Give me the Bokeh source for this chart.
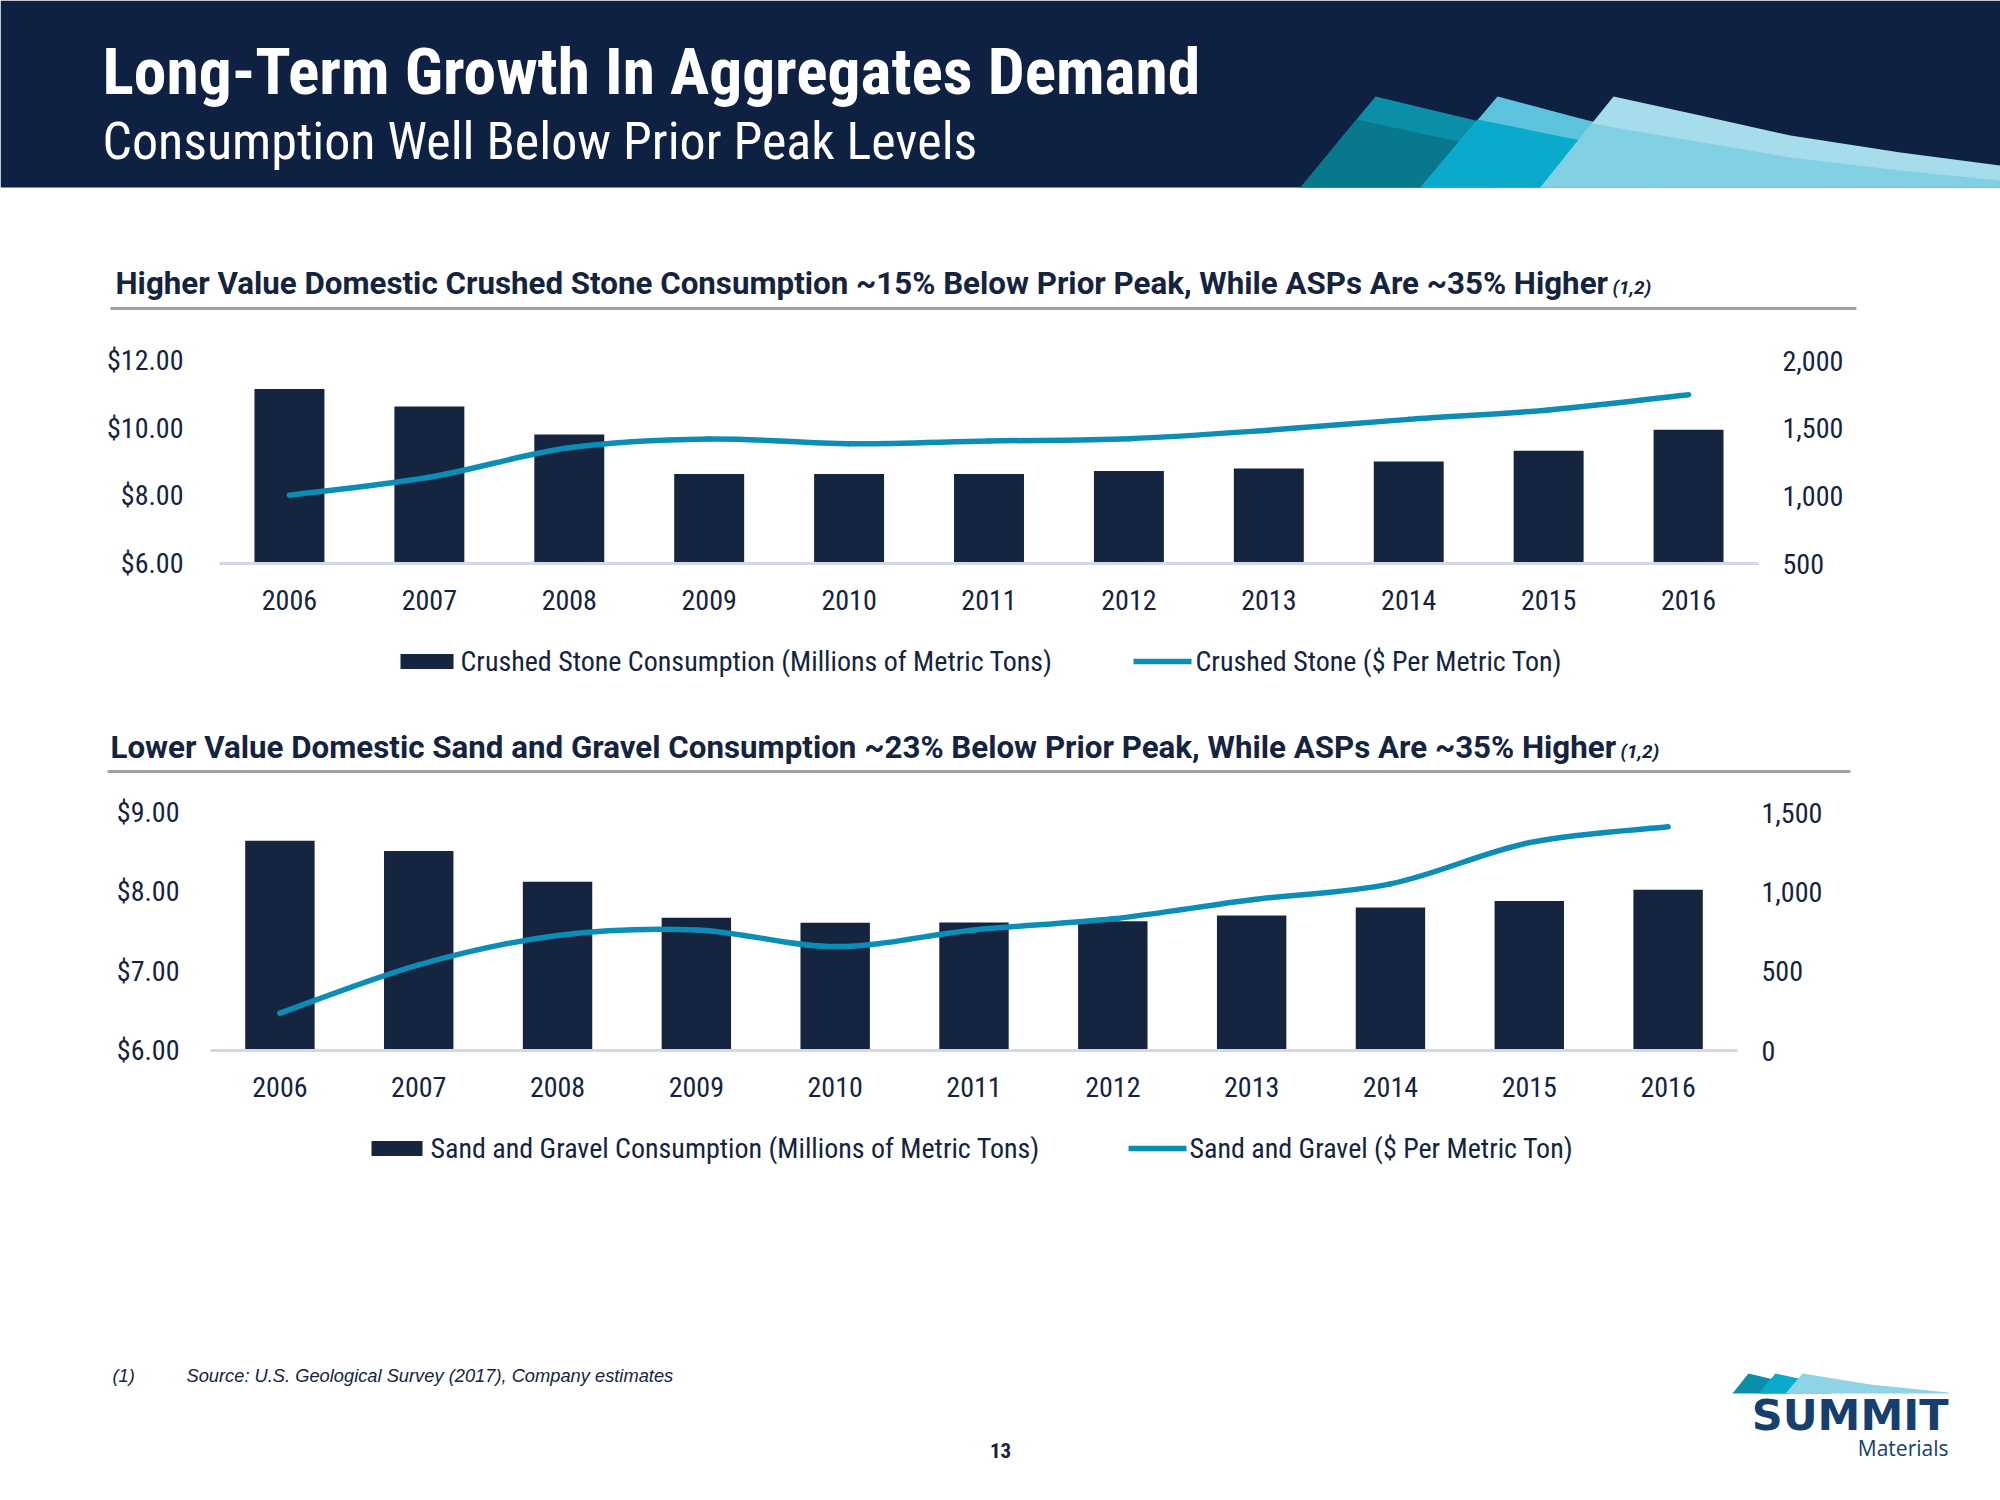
import numpy as np
from bokeh.plotting import figure
from bokeh.models import Range1d, LinearAxis, FixedTicker, NumeralTickFormatter
from bokeh.layouts import column
from bokeh.embed import file_html
from bokeh.resources import INLINE
from bokeh.core.properties import value

# ---------------- data ----------------
years = [2006, 2007, 2008, 2009, 2010, 2011, 2012, 2013, 2014, 2015, 2016]
year_labels = ["2006", "2007", "2008", "2009", "2010", "2011", "2012", "2013", "2014", "2015", "2016"]

stone_volume = [1789, 1660, 1454, 1162, 1162, 1162, 1184, 1202, 1254, 1333, 1489]
stone_price = [8.02, 8.55, 9.42, 9.68, 9.54, 9.62, 9.69, 9.94, 10.26, 10.54, 10.99]

gravel_volume = [1322, 1257, 1063, 836, 805, 807, 815, 851, 901, 943, 1013]
gravel_price = [6.47, 7.08, 7.45, 7.52, 7.31, 7.52, 7.66, 7.90, 8.10, 8.62, 8.82]

stone_price_ticks = [6, 8, 10, 12]
stone_volume_ticks = [500, 1000, 1500, 2000]
gravel_price_ticks = [6, 7, 8, 9]
gravel_volume_ticks = [0, 500, 1000, 1500]

title = "Long-Term Growth In Aggregates Demand"
subtitle = "Consumption Well Below Prior Peak Levels"
sec1 = "Higher Value Domestic Crushed Stone Consumption ~15% Below Prior Peak, While ASPs Are ~35% Higher"
sec2 = "Lower Value Domestic Sand and Gravel Consumption ~23% Below Prior Peak, While ASPs Are ~35% Higher"
sup = "(1,2)"
stone_bar_label = "Crushed Stone Consumption (Millions of Metric Tons)"
stone_line_label = "Crushed Stone ($ Per Metric Ton)"
gravel_bar_label = "Sand and Gravel Consumption (Millions of Metric Tons)"
gravel_line_label = "Sand and Gravel ($ Per Metric Ton)"
foot_num = "(1)"
foot_text = "Source:  U.S. Geological Survey (2017), Company estimates"
page_no = "13"

# ---------------- style ----------------
COND = "Roboto Condensed"
SANS = "Roboto"
NAVY = "#0f2142"
BAR = "#15243f"
TEAL = "#0b8db5"
TXT = "#15233f"
W = 2000
FS = "28px"


def canvas(h):
    p = figure(width=W, height=h, x_range=Range1d(0, W), y_range=Range1d(h, 0),
               output_backend="svg", toolbar_location=None, x_axis_type=None,
               y_axis_type=None, min_border=0, outline_line_color=None, title=None)
    p.frame_align = False
    p.background_fill_color = "white"
    p.border_fill_color = "white"
    return p


def txt(p, x, y, s, size, color=TXT, style="normal", font=COND, align="left"):
    p.text(x=[x], y=[y], text=[s], text_font=value(font), text_font_size=value(f"{size}px"),
           text_font_style=style, text_color=color, text_align=align, text_baseline="middle")


def legend(p, y, box_l, box_r, txt1_x, line_l, line_r, txt2_x, lab1, lab2):
    p.quad(left=[box_l], right=[box_r], top=[y - 7.5], bottom=[y + 7.5], fill_color=BAR, line_color=None)
    txt(p, txt1_x, y, lab1, 28)
    p.line([line_l, line_r], [y, y], line_color=TEAL, line_width=5.5)
    txt(p, txt2_x, y, lab2, 28)


def catmull(xs, ys):
    X = np.asarray(xs, float)
    Y = np.asarray(ys, float)
    n = len(X)
    Xp = np.concatenate([[X[0]], X, [X[-1]]])
    Yp = np.concatenate([[Y[0]], Y, [Y[-1]]])
    return dict(
        x0=X[:-1], y0=Y[:-1], x1=X[1:], y1=Y[1:],
        cx0=X[:-1] + (Xp[2:n + 1] - Xp[0:n - 1]) / 6.0,
        cy0=Y[:-1] + (Yp[2:n + 1] - Yp[0:n - 1]) / 6.0,
        cx1=X[1:] - (Xp[3:n + 2] - Xp[1:n]) / 6.0,
        cy1=Y[1:] - (Yp[3:n + 2] - Yp[1:n]) / 6.0,
    )


def style_axis(a, standoff):
    a.axis_line_color = None
    a.major_tick_line_color = None
    a.minor_tick_line_color = None
    a.major_label_standoff = standoff
    a.major_label_text_font = COND
    a.major_label_text_font_size = FS
    a.major_label_text_color = TXT


def chart(h, top_b, frame_h, left_b, right_b, vol, price, price_rng, vol_rng,
          pticks, vticks, lstand, rstand):
    p = figure(width=W, height=h, output_backend="svg", toolbar_location=None, title=None,
               x_range=Range1d(years[0] - 0.5, years[-1] + 0.5),
               y_range=Range1d(*price_rng),
               min_border_top=top_b, min_border_bottom=h - top_b - frame_h,
               min_border_left=left_b, min_border_right=right_b,
               outline_line_color=None)
    p.frame_align = False
    p.extra_y_ranges = {"vol": Range1d(*vol_rng)}
    p.grid.visible = False
    p.background_fill_color = "white"
    p.border_fill_color = "white"

    p.vbar(x=years, top=vol, bottom=vol_rng[0], width=0.5, y_range_name="vol",
           fill_color=BAR, line_color=None)
    src = catmull(years, price)
    p.bezier(source=src, x0="x0", y0="y0", x1="x1", y1="y1", cx0="cx0", cy0="cy0",
             cx1="cx1", cy1="cy1", line_color=TEAL, line_width=5.5, line_cap="round")

    xa = p.xaxis[0]
    xa.ticker = FixedTicker(ticks=years)
    xa.major_label_overrides = {y: l for y, l in zip(years, year_labels)}
    style_axis(xa, 20)
    xa.axis_line_color = "#d3d7e7"
    xa.axis_line_width = 3

    ya = p.yaxis[0]
    ya.ticker = FixedTicker(ticks=pticks)
    ya.formatter = NumeralTickFormatter(format="$0.00")
    style_axis(ya, lstand)

    ra = LinearAxis(y_range_name="vol", ticker=FixedTicker(ticks=vticks),
                    formatter=NumeralTickFormatter(format="0,0"))
    style_axis(ra, rstand)
    p.add_layout(ra, "right")
    return p


# ---------------- header + section 1 title (page y 0-330) ----------------
top = canvas(330)
top.quad(left=[0], right=[W], top=[0], bottom=[187], fill_color=NAVY, line_color=None)
shapes = [
    ([1300, 1375, 1500, 1500], [187, 96, 126, 187], "#0b8ea7"),
    ([1300, 1356, 1500, 1500], [187, 119, 150, 187], "#08798d"),
    ([1420, 1497, 1580, 1660, 1660], [187, 96, 118, 138, 187], "#5cc3dc"),
    ([1420, 1477, 1660, 1660], [187, 119, 156, 187], "#0aaacd"),
    ([1540, 1613, 1700, 1790, 1900, 2000, 2000], [187, 96, 115, 135, 152, 165, 187], "#a7dcea"),
    ([1540, 1591, 1790, 1900, 2000, 2000], [187, 123, 157, 170, 180, 187], "#82d0e3"),
]
for xs, ys, c in shapes:
    top.patch(xs, ys, fill_color=c, line_color=None)
txt(top, 102, 71, title, 65.5, color="white", style="bold")
txt(top, 102, 141, subtitle, 52, color="white")
txt(top, 115, 283, sec1, 31.3, style="bold", font=SANS)
txt(top, 1612, 287, sup, 19, style="bold italic", font=SANS)
top.line([110, 1856], [308, 308], line_color="#a3a3a3", line_width=3)

# ---------------- chart 1 (page y 330-625) ----------------
c1 = chart(295, 30, 203, 219, 242, stone_volume, stone_price, (6, 12), (500, 2000),
           stone_price_ticks, stone_volume_ticks, 30, 18)

# ---------------- legend 1 + section 2 title (page y 625-785) ----------------
mid = canvas(160)
legend(mid, 36, 400, 453, 460, 1133, 1191, 1195, stone_bar_label, stone_line_label)
txt(mid, 110, 122, sec2, 31.3, style="bold", font=SANS)
txt(mid, 1620, 126, sup, 19, style="bold italic", font=SANS)
mid.line([107, 1850], [146, 146], line_color="#a3a3a3", line_width=3)

# ---------------- chart 2 (page y 785-1110) ----------------
c2 = chart(325, 27, 238, 210, 263, gravel_volume, gravel_price, (6, 9), (0, 1500),
           gravel_price_ticks, gravel_volume_ticks, 25, 18)

# ---------------- legend 2 + footer (page y 1110-1500) ----------------
foot = canvas(390)
legend(foot, 38, 371, 422, 430, 1128, 1186, 1189, gravel_bar_label, gravel_line_label)
txt(foot, 112, 265, foot_num, 18.3, style="italic", font="Liberation Sans")
txt(foot, 186, 265, foot_text, 18.3, style="italic", font="Liberation Sans")
txt(foot, 1000, 340, page_no, 21, style="bold", align="center")
logo = [
    ([1732, 1748, 1790, 1790], [283, 263, 273, 283], "#0b8ea7"),
    ([1758, 1775, 1830, 1830], [283, 263, 275, 283], "#0aaacd"),
    ([1785, 1802, 1870, 1948, 1948], [283, 263, 274, 282, 283], "#8fd3e6"),
]
for xs, ys, c in logo:
    foot.patch(xs, ys, fill_color=c, line_color=None)
txt(foot, 1948, 304, "SUMMIT", 43, color="#163e6e", style="bold", font="DejaVu Sans", align="right")
txt(foot, 1948, 337, "Materials", 21, color="#163e6e", font="Open Sans", align="right")

layout = column(top, c1, mid, c2, foot, spacing=0)
open("out.html", "w").write(file_html(layout, INLINE))
